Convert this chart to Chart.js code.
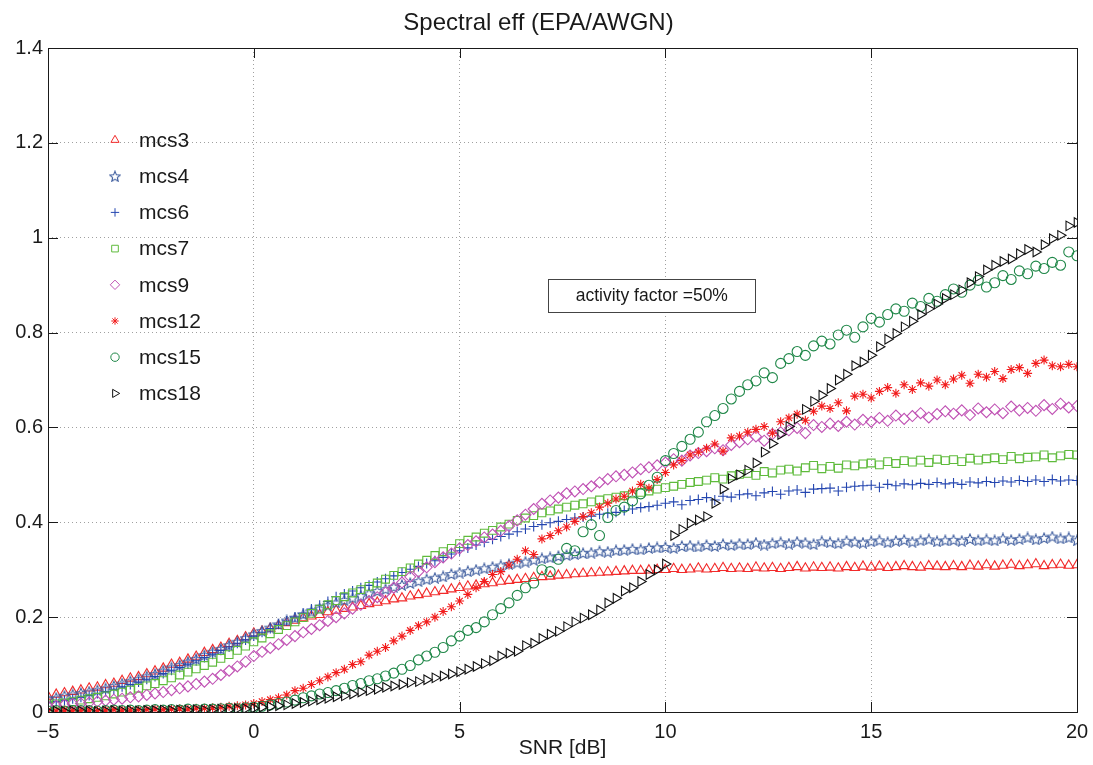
<!DOCTYPE html>
<html>
<head>
<meta charset="utf-8">
<script src="https://cdn.jsdelivr.net/npm/chart.js@4.4.1/dist/chart.umd.min.js"></script>
<style>
  html, body { margin: 0; padding: 0; background: #fff; }
  #wrap { width: 1093px; height: 765px; }
</style>
</head>
<body>
<div id="wrap"><canvas id="effChart" width="1093" height="765"></canvas></div>
<script>
// SNR grid, 0.2 dB steps from -5 to 20
const snr = [];
for (let i = 0; i <= 125; i++) snr.push(Math.round((-5 + 0.2 * i) * 10) / 10);

const seriesNames = ['mcs3', 'mcs4', 'mcs6', 'mcs7', 'mcs9', 'mcs12', 'mcs15', 'mcs18'];

const mcs3 = [
  .033,.037,.040,.043,.046, .050,.052,.057,.060,.066, .071,.074,.080,.086,.092,
  .100,.104,.111,.117,.125, .131,.136,.144,.150,.158, .166,.170,.176,.182,.188,
  .193,.198,.202,.205,.211, .214,.218,.221,.224,.228, .231,.234,.238,.240,.244,
  .247,.250,.253,.256,.259, .262,.265,.267,.270,.272, .275,.277,.279,.281,.283,
  .285,.286,.288,.289,.291, .292,.293,.294,.295,.296, .297,.298,.298,.299,.300,
  .300,.302,.300,.301,.303, .301,.302,.304,.302,.303, .302,.305,.303,.304,.302,
  .304,.306,.303,.305,.304, .305,.303,.306,.304,.307, .305,.307,.304,.306,.308,
  .306,.305,.308,.307,.306, .308,.306,.309,.307,.310, .307,.309,.311,.308,.310,
  .312,.308,.310,.311,.309, .310
];
const mcs4 = [
  .028,.030,.034,.037,.040, .043,.046,.050,.055,.060, .065,.069,.075,.080,.087,
  .094,.099,.106,.112,.120, .127,.133,.141,.148,.156, .164,.171,.178,.185,.193,
  .199,.206,.212,.218,.225, .231,.236,.241,.245,.250, .255,.259,.264,.268,.272,
  .276,.280,.283,.286,.291, .294,.297,.300,.303,.306, .309,.312,.315,.317,.321,
  .324,.326,.329,.331,.333, .335,.336,.339,.338,.341, .342,.344,.343,.346,.347,
  .348,.346,.350,.351,.349, .352,.350,.354,.352,.355, .354,.357,.353,.356,.358,
  .355,.359,.357,.354,.360, .358,.356,.361,.359,.357, .360,.362,.358,.361,.363,
  .359,.362,.364,.360,.362, .363,.361,.365,.362,.364, .362,.366,.363,.365,.368,
  .364,.367,.370,.366,.368, .362
];
const mcs6 = [
  .020,.022,.025,.028,.031, .035,.039,.043,.048,.053, .058,.063,.069,.075,.081,
  .088,.094,.101,.108,.115, .122,.130,.137,.145,.152, .160,.168,.176,.185,.192,
  .200,.208,.217,.225,.233, .243,.249,.255,.262,.267, .274,.281,.287,.294,.301,
  .307,.313,.319,.326,.333, .340,.346,.352,.358,.364, .370,.375,.380,.386,.391,
  .395,.399,.402,.406,.409, .411,.413,.417,.419,.421, .425,.428,.431,.433,.436,
  .440,.443,.437,.446,.448, .452,.447,.455,.453,.458, .460,.456,.462,.465,.459,
  .466,.468,.463,.470,.471, .472,.466,.474,.476,.477, .478,.474,.480,.477,.481,
  .479,.482,.480,.484,.481, .483,.480,.485,.483,.486, .484,.487,.485,.488,.486,
  .489,.486,.490,.487,.489, .488
];
const mcs7 = [
  .015,.017,.019,.022,.025, .028,.031,.034,.038,.042, .046,.050,.055,.060,.066,
  .072,.078,.084,.091,.098, .105,.113,.121,.130,.139, .148,.156,.165,.174,.182,
  .190,.199,.208,.217,.226, .235,.243,.251,.258,.265, .272,.280,.288,.296,.304,
  .312,.320,.330,.338,.345, .355,.362,.369,.377,.383, .390,.396,.404,.409,.414,
  .420,.424,.428,.432,.436, .439,.443,.447,.450,.453, .456,.460,.463,.466,.470,
  .473,.476,.480,.484,.486, .489,.494,.491,.498,.501, .503,.499,.507,.504,.510,
  .512,.508,.515,.520,.513, .518,.514,.521,.519,.523, .525,.521,.528,.524,.530,
  .527,.531,.526,.533,.530, .532,.528,.535,.531,.534, .536,.532,.539,.534,.537,
  .538,.542,.536,.540,.543, .542
];
const mcs9 = [
  .012,.013,.015,.017,.018, .020,.022,.024,.026,.028, .031,.033,.036,.039,.042,
  .046,.050,.054,.059,.064, .070,.078,.087,.096,.106, .118,.127,.135,.143,.152,
  .160,.168,.175,.183,.192, .200,.208,.218,.226,.234, .242,.252,.262,.273,.285,
  .296,.305,.316,.326,.334, .345,.352,.360,.368,.374, .382,.392,.404,.416,.428,
  .439,.446,.452,.461,.465, .470,.476,.484,.491,.497, .500,.505,.512,.516,.520,
  .526,.533,.530,.541,.546, .550,.556,.552,.563,.569, .575,.581,.572,.586,.590,
  .594,.599,.588,.605,.601, .608,.603,.612,.606,.616, .612,.620,.614,.625,.618,
  .624,.630,.621,.628,.634, .629,.636,.626,.640,.632, .638,.630,.644,.636,.641,
  .635,.647,.639,.650,.642, .645
];
const mcs12 = [
  .003,.002,.004,.003,.003, .004,.003,.004,.005,.004, .004,.005,.005,.006,.005,
  .006,.007,.006,.008,.008, .009,.010,.012,.013,.015, .018,.022,.026,.030,.036,
  .045,.050,.058,.066,.074, .083,.090,.100,.106,.120, .128,.136,.150,.160,.172,
  .182,.190,.200,.212,.222, .234,.248,.262,.275,.290, .296,.310,.322,.340,.332,
  .365,.372,.382,.390,.402, .412,.420,.432,.440,.449, .455,.466,.480,.472,.490,
  .505,.521,.530,.542,.548, .556,.565,.550,.578,.582, .590,.596,.602,.588,.612,
  .620,.628,.615,.634,.645, .640,.652,.635,.666,.670, .662,.676,.684,.672,.690,
  .680,.694,.687,.700,.690, .702,.710,.693,.712,.706, .718,.703,.722,.726,.714,
  .735,.742,.730,.728,.733, .728
];
const mcs15 = [
  .002,.003,.002,.003,.003, .003,.002,.003,.004,.003, .004,.003,.004,.005,.004,
  .005,.004,.006,.005,.006, .006,.007,.008,.007,.009, .010,.012,.015,.018,.021,
  .025,.030,.034,.038,.041, .045,.050,.056,.060,.066, .070,.076,.082,.090,.098,
  .110,.118,.126,.136,.150, .160,.172,.178,.190,.205, .218,.230,.246,.262,.272,
  .300,.296,.322,.345,.340, .380,.395,.372,.410,.425, .432,.445,.460,.478,.495,
  .530,.545,.560,.575,.590, .612,.625,.640,.660,.676, .690,.698,.715,.705,.735,
  .745,.760,.752,.772,.782, .776,.795,.805,.790,.812, .830,.822,.838,.850,.845,
  .862,.855,.872,.866,.880, .892,.885,.900,.910,.896, .905,.920,.912,.930,.924,
  .940,.935,.948,.942,.970, .962
];
const mcs18 = [
  .001,.002,.001,.002,.002, .002,.001,.002,.003,.002, .003,.002,.003,.003,.004,
  .003,.004,.004,.005,.004, .005,.006,.005,.007,.007, .008,.010,.011,.013,.015,
  .018,.020,.023,.026,.029, .032,.034,.038,.042,.045, .048,.052,.055,.058,.062,
  .064,.068,.072,.076,.080, .085,.090,.096,.102,.108, .118,.124,.128,.140,.145,
  .155,.164,.170,.180,.190, .198,.205,.215,.230,.240, .255,.262,.275,.290,.300,
  .312,.372,.385,.398,.405, .412,.440,.470,.492,.500, .510,.525,.548,.566,.585,
  .602,.618,.638,.655,.668, .682,.700,.712,.730,.738, .752,.770,.786,.798,.812,
  .824,.838,.850,.860,.872, .880,.890,.905,.918,.932, .942,.950,.955,.966,.975,
  .970,.985,.998,1.005,1.025, 1.032
];

const xTicks = [-5, 0, 5, 10, 15, 20];
const yTicks = [0, 0.2, 0.4, 0.6, 0.8, 1, 1.2, 1.4];
const noteText = 'activity factor =50%';

Chart.defaults.font.family = '"Liberation Sans", Arial, Helvetica, sans-serif';
Chart.defaults.color = '#1a1a1a';

// five-point star outline for mcs4 (no built-in pentagram)
function starImage(color, size) {
  const c = document.createElement('canvas');
  c.width = c.height = size;
  const g = c.getContext('2d');
  const R = size / 2 - 0.5, r = R * 0.45;
  g.beginPath();
  for (let k = 0; k < 10; k++) {
    const a = -Math.PI / 2 + k * Math.PI / 5;
    const rr = k % 2 ? r : R;
    g.lineTo(size / 2 + rr * Math.cos(a), size / 2 + 0.6 + rr * Math.sin(a));
  }
  g.closePath();
  g.strokeStyle = color;
  g.lineWidth = 1.1;
  g.stroke();
  return c;
}

const styles = [
  { color: '#f22a2a', pointStyle: 'triangle', radius: 5.5, rotation: 0 },
  { color: '#3d5c9e', pointStyle: starImage('#3d5c9e', 12), radius: 6, rotation: 0 },
  { color: '#2446b0', pointStyle: 'cross', radius: 5, rotation: 0 },
  { color: '#5fbb3c', pointStyle: 'rect', radius: 5.5, rotation: 0 },
  { color: '#c052b4', pointStyle: 'rectRot', radius: 5.5, rotation: 0 },
  { color: '#f21c1c', pointStyle: 'star', radius: 4.5, rotation: 0 },
  { color: '#1f8748', pointStyle: 'circle', radius: 5, rotation: 0 },
  { color: '#111111', pointStyle: 'triangle', radius: 5.5, rotation: 90 }
];
const values = [mcs3, mcs4, mcs6, mcs7, mcs9, mcs12, mcs15, mcs18];

const datasets = seriesNames.map((name, i) => ({
  label: name,
  data: snr.map((x, k) => ({ x: x, y: values[i][k] })),
  showLine: false,
  pointStyle: styles[i].pointStyle,
  pointRadius: styles[i].radius,
  pointRotation: styles[i].rotation,
  pointBorderWidth: 1.1,
  borderColor: styles[i].color,
  backgroundColor: 'rgba(0,0,0,0)',
  pointBackgroundColor: 'rgba(0,0,0,0)',
  order: seriesNames.length - i
}));

// axes box, inward tick marks, legend and note box
const matlabDecor = {
  id: 'matlabDecor',
  afterDraw(chart) {
    const ctx = chart.ctx;
    const a = chart.chartArea;
    const xs = chart.scales.x, ys = chart.scales.y;
    ctx.save();
    ctx.strokeStyle = '#1a1a1a';
    ctx.lineWidth = 1;
    ctx.beginPath();
    xTicks.forEach(v => {
      const px = Math.round(xs.getPixelForValue(v)) + 0.5;
      ctx.moveTo(px, a.bottom); ctx.lineTo(px, a.bottom - 10);
      ctx.moveTo(px, a.top); ctx.lineTo(px, a.top + 10);
    });
    yTicks.forEach(v => {
      const py = Math.round(ys.getPixelForValue(v)) + 0.5;
      ctx.moveTo(a.left, py); ctx.lineTo(a.left + 10, py);
      ctx.moveTo(a.right, py); ctx.lineTo(a.right - 10, py);
    });
    ctx.stroke();
    ctx.strokeRect(Math.round(a.left) + 0.5, Math.round(a.top) + 0.5,
      Math.round(a.right - a.left), Math.round(a.bottom - a.top));

    // legend inside the axes
    const lx = a.left + 67, ly0 = a.top + 92, step = 36.2;
    ctx.font = '21px "Liberation Sans", Arial, sans-serif';
    ctx.textBaseline = 'middle';
    ctx.textAlign = 'left';
    seriesNames.forEach((name, i) => {
      const y = ly0 + i * step;
      ctx.strokeStyle = styles[i].color;
      ctx.fillStyle = 'rgba(0,0,0,0)';
      ctx.lineWidth = 1;
      Chart.helpers.drawPoint(ctx, {
        pointStyle: styles[i].pointStyle,
        rotation: styles[i].rotation,
        radius: styles[i].radius - 0.8,
        borderWidth: 1
      }, lx, y);
      ctx.fillStyle = '#1a1a1a';
      ctx.fillText(name, lx + 24, y + 1);
    });

    // annotation text box
    const cx = xs.getPixelForValue(9.67), cy = ys.getPixelForValue(0.878);
    const bw = 207, bh = 33;
    ctx.fillStyle = '#ffffff';
    ctx.fillRect(cx - bw / 2, cy - bh / 2, bw, bh);
    ctx.strokeStyle = '#444';
    ctx.strokeRect(Math.round(cx - bw / 2) + 0.5, Math.round(cy - bh / 2) + 0.5, bw, bh);
    ctx.font = '17.5px "Liberation Sans", Arial, sans-serif';
    ctx.textAlign = 'center';
    ctx.fillStyle = '#1a1a1a';
    ctx.fillText(noteText, cx, cy + 1);
    ctx.restore();
  }
};

new Chart(document.getElementById('effChart'), {
  type: 'scatter',
  data: { datasets: datasets },
  options: {
    responsive: false,
    animation: false,
    events: [],
    layout: { padding: { left: 0, right: 16, top: 0, bottom: 0 } },
    plugins: {
      legend: { display: false },
      tooltip: { enabled: false },
      title: {
        display: true,
        text: 'Spectral eff (EPA/AWGN)',
        color: '#1a1a1a',
        font: { size: 24, weight: 'normal' },
        padding: { top: 9, bottom: 10.2 }
      }
    },
    scales: {
      x: {
        type: 'linear',
        min: -5,
        max: 20,
        afterFit(scale) { scale.height = 53; scale.paddingRight = 0; scale.paddingLeft = 0; },
        afterBuildTicks(scale) { scale.ticks = xTicks.map(v => ({ value: v })); },
        ticks: {
          padding: 8,
          font: { size: 20 },
          color: '#1a1a1a',
          maxRotation: 0,
          callback: v => (v < 0 ? '\u2212' + Math.abs(v) : String(v))
        },
        grid: { color: '#a0a0a0', lineWidth: 1, drawTicks: false },
        border: { display: false, dash: [1, 3] },
        title: {
          display: true,
          text: 'SNR [dB]',
          color: '#1a1a1a',
          font: { size: 21 },
          padding: { top: 0, bottom: 4 }
        }
      },
      y: {
        type: 'linear',
        min: 0,
        max: 1.4,
        afterFit(scale) { scale.width = 48; },
        afterBuildTicks(scale) { scale.ticks = yTicks.map(v => ({ value: v })); },
        ticks: {
          padding: 5,
          font: { size: 20 },
          color: '#1a1a1a',
          callback: v => String(Math.round(v * 10) / 10)
        },
        grid: { color: '#a0a0a0', lineWidth: 1, drawTicks: false },
        border: { display: false, dash: [1, 3] }
      }
    }
  },
  plugins: [matlabDecor]
});
</script>
</body>
</html>
